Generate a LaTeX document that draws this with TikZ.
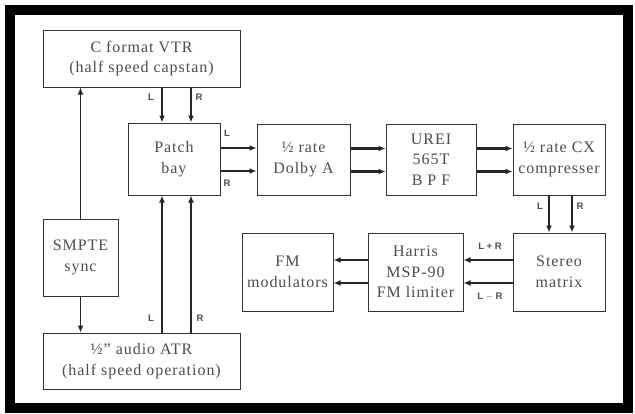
\documentclass[tikz,border=0pt]{standalone}
\usepackage{fontspec}
\setmainfont{Liberation Serif}[LetterSpace=6]
\newfontfamily\lblfont{Liberation Sans}
\usetikzlibrary{arrows.meta}
\tikzset{
  blk/.style={draw=black!80, line width=1pt, text=black!70, align=center,
    font=\fontsize{16}{20.5}\selectfont, inner sep=0pt},
  arr/.style={draw=black!85, line width=1.7pt, -{Latex[length=7pt,width=6pt]}},
  harr/.style={arr, line width=2.3pt},
  thinarr/.style={arr, line width=1.3pt},
  lbl/.style={text=black!70, font=\lblfont\fontsize{9.5}{10}\selectfont\bfseries, inner sep=0pt}
}
\begin{document}
\begin{tikzpicture}[x=1pt,y=-1pt]
\useasboundingbox (0,0) rectangle (635,413);
\fill[white] (0,0) rectangle (635,413);
\draw[line width=10pt, black] (10,10) rectangle (627.5,408);

\node[blk, minimum width=197pt, minimum height=57pt] (vtr) at (141.5,58.5) {C format VTR\\(half speed capstan)};
\node[blk, minimum width=92pt, minimum height=72pt] (patch) at (174,159) {Patch\\bay};
\node[blk, minimum width=93pt, minimum height=71pt] (dolby) at (303.5,159.5) {½ rate\\Dolby A};
\node[blk, minimum width=90pt, minimum height=71pt] (urei) at (431,159.5) {UREI\\565T\\B P F};
\node[blk, minimum width=92pt, minimum height=71pt] (cx) at (559,159.5) {½ rate CX\\compresser};
\node[blk, minimum width=75pt, minimum height=77pt] (smpte) at (80.5,257.5) {SMPTE\\sync};
\node[blk, minimum width=197pt, minimum height=56pt] (atr) at (141.5,361) {½\symbol{34} audio ATR\\(half speed operation)};
\node[blk, minimum width=91pt, minimum height=78pt] (fm) at (287.5,272) {FM\\modulators};
\node[blk, minimum width=95pt, minimum height=78pt] (harris) at (415.5,272) {Harris\\MSP-90\\FM limiter};
\node[blk, minimum width=92pt, minimum height=78pt] (stereo) at (559,272) {Stereo\\matrix};

% VTR -> patch
\draw[arr] ([xshift=-12pt]patch.north |- vtr.south) -- ([xshift=-12pt]patch.north);
\draw[arr] ([xshift=17pt]patch.north |- vtr.south) -- ([xshift=17pt]patch.north);
\node[lbl] (l1) at (151,97) {L};
\node[lbl] (r1) at (199,97) {R};
% ATR -> patch
\draw[arr] ([xshift=-12pt]patch.south |- atr.north) -- ([xshift=-12pt]patch.south);
\draw[arr] ([xshift=17pt]patch.south |- atr.north) -- ([xshift=17pt]patch.south);
\node[lbl] (l2) at (151,318) {L};
\node[lbl] (r2) at (200,318) {R};
% SMPTE
\draw[thinarr] (smpte.north) -- (smpte.north |- vtr.south);
\draw[thinarr] (smpte.south) -- (smpte.south |- atr.north);
% chain
\draw[harr] ([yshift=-12pt]patch.east) -- ([yshift=-12pt]patch.east -| dolby.west);
\draw[harr] ([yshift=11pt]patch.east) -- ([yshift=11pt]patch.east -| dolby.west);
\node[lbl] (l3) at (227,133) {L};
\node[lbl] (r3) at (227,183) {R};
\draw[harr] ([yshift=-12pt]dolby.east) -- ([yshift=-12pt]dolby.east -| urei.west);
\draw[harr] ([yshift=11pt]dolby.east) -- ([yshift=11pt]dolby.east -| urei.west);
\draw[harr] ([yshift=-12pt]urei.east) -- ([yshift=-12pt]urei.east -| cx.west);
\draw[harr] ([yshift=11pt]urei.east) -- ([yshift=11pt]urei.east -| cx.west);
% CX -> stereo
\draw[harr] ([xshift=-10pt]cx.south) -- ([xshift=-10pt]cx.south |- stereo.north);
\draw[harr] ([xshift=13pt]cx.south) -- ([xshift=13pt]cx.south |- stereo.north);
\node[lbl] (l4) at (540,206) {L};
\node[lbl] (r4) at (580,206) {R};
% stereo -> harris -> fm
\draw[harr] ([yshift=-11pt]stereo.west) -- ([yshift=-11pt]stereo.west -| harris.east);
\draw[harr] ([yshift=12pt]stereo.west) -- ([yshift=12pt]stereo.west -| harris.east);
\node[lbl] (lpr) at (490,246) {L + R};
\node[lbl] (lmr) at (490,297) {L $-$ R};
\draw[harr] ([yshift=-11pt]harris.west) -- ([yshift=-11pt]harris.west -| fm.east);
\draw[harr] ([yshift=12pt]harris.west) -- ([yshift=12pt]harris.west -| fm.east);
\end{tikzpicture}
\end{document}
